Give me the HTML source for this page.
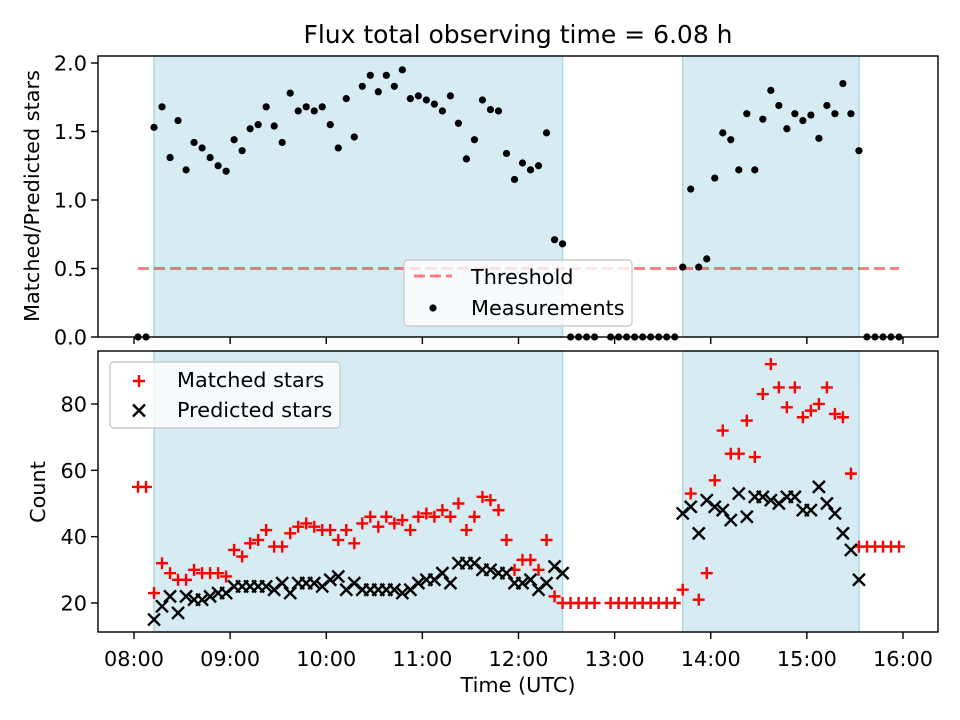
<!DOCTYPE html>
<html><head><meta charset="utf-8"><style>
html,body{margin:0;padding:0;background:#fff;}
svg{display:block;font-family:"DejaVu Sans","Liberation Sans",sans-serif;}
</style></head><body>
<svg id="fig" width="960" height="720" viewBox="0 0 960 720" xmlns="http://www.w3.org/2000/svg">
<rect width="960" height="720" fill="#fff"/>
<text x="518" y="43" font-size="25" text-anchor="middle">Flux total observing time = 6.08 h</text>
<g id="topPanel"></g>
<g id="botPanel"></g>
<text transform="translate(39,196) rotate(-90)" font-size="20.8" text-anchor="middle">Matched/Predicted stars</text>
<text transform="translate(45,492) rotate(-90)" font-size="20.8" text-anchor="middle">Count</text>
<text x="518" y="692" font-size="20.8" text-anchor="middle">Time (UTC)</text>
</svg>
<script>
// minutes after 08:00 for each observation
const times = [2.5,7.5,12.5,17.5,22.5,27.5,32.5,37.5,42.5,47.5,52.5,57.5,62.5,67.5,72.5,77.5,82.5,87.5,92.5,97.5,
102.5,107.5,112.5,117.5,122.5,127.5,132.5,137.5,142.5,147.5,152.5,157.5,162.5,167.5,172.5,177.5,182.5,187.5,192.5,197.5,
202.5,207.5,212.5,217.5,222.5,227.5,232.5,237.5,242.5,247.5,252.5,257.5,262.5,267.5,272.5,277.5,282.5,287.5,292.5,297.5,
302.5,307.5,312.5,317.5,322.5,327.5,332.5,337.5,342.5,347.5,352.5,357.5,362.5,367.5,372.5,377.5,382.5,387.5,392.5,397.5,
402.5,407.5,412.5,417.5,422.5,427.5,432.5,437.5,442.5,447.5,452.5,457.5,462.5,467.5,472.5,477.5];
const ratio = [0,0,1.53,1.68,1.31,1.58,1.22,1.42,1.38,1.31,1.25,1.21,
1.44,1.36,1.52,1.55,1.68,1.54,1.42,1.78,1.65,1.68,
1.65,1.68,1.55,1.38,1.74,1.46,1.83,1.91,1.79,1.91,
1.83,1.95,1.74,1.76,1.73,1.70,1.65,1.76,1.56,1.30,
1.44,1.73,1.66,1.65,1.34,1.15,1.27,1.22,1.25,1.49,
0.71,0.68,0,0,0,0,null,0,0,0,0,0,0,0,0,0,
0.51,1.08,0.51,0.57,1.16,1.49,1.44,1.22,1.63,1.22,1.59,1.80,1.69,1.52,1.63,1.58,1.62,1.45,1.69,1.63,1.85,1.63,1.36,
0,0,0,0,0];
const matched = [55,55,23,32,29,27,27,30,29,29,29,28,36,34,38,39,42,37,37,41,43,44,
43,42,42,39,42,38,44,46,43,46,44,45,42,46,47,46,48,46,50,42,
46,52,51,48,39,30,33,33,30,39,22,20,20,20,20,20,null,20,20,20,20,20,20,20,20,20,
24,53,21,29,57,72,65,65,75,64,83,92,85,79,85,76,78,80,85,77,76,59,37,
37,37,37,37,37];
const predicted = [null,null,15,19,22,17,22,21,21,22,23,23,
25,25,25,25,25,24,26,23,26,26,
26,25,27,28,24,26,24,24,24,24,
24,23,24,26,27,27,29,26,32,32,
32,30,30,29,29,26,26,27,24,26,
31,29,null,null,null,null,null,null,null,null,null,null,null,null,null,null,
47,49,41,51,49,48,45,53,46,52,52,51,50,52,52,48,48,55,50,47,41,36,27,
null,null,null,null,null];
const spanStart = [12.5, 342.5];
const spanEnd = [267.5, 452.5];
const threshold = 0.5;
const xTickLabels = ["08:00","09:00","10:00","11:00","12:00","13:00","14:00","15:00","16:00"];
const topTicks = [0.0,0.5,1.0,1.5,2.0];
const botTicks = [20,40,60,80];

const NS="http://www.w3.org/2000/svg";
const L=98,R=938,FS=20.8;
const xs = m => 134 + (m/60)*96.125;
const yTop = v => 337 - v*137;
const yBot = v => 603 - (v-20)*3.317;
function mk(tag, attrs, parent){const e=document.createElementNS(NS,tag);for(const k in attrs)e.setAttribute(k,attrs[k]);parent.appendChild(e);return e;}
const topG=document.getElementById('topPanel'), botG=document.getElementById('botPanel');

function panel(g, y0, y1, name){
  for(let i=0;i<spanStart.length;i++){
    const r=mk('rect',{x:xs(spanStart[i]),y:y0,width:xs(spanEnd[i])-xs(spanStart[i]),height:y1-y0,fill:'#add8e6','fill-opacity':0.5,stroke:'#add8e6','stroke-width':1.5},g);
    
    
  }
}
panel(topG,56,337,'top');
panel(botG,351,632,'bottom');

const th=mk('line',{x1:xs(times[0]),x2:xs(times[95]),y1:yTop(threshold),y2:yTop(threshold),stroke:'#ff0000','stroke-opacity':0.5,'stroke-width':3,'stroke-dasharray':'11,5'},topG);



for(let i=0;i<times.length;i++){
  if(ratio[i]==null) continue;
  const c=mk('circle',{cx:xs(times[i]),cy:yTop(ratio[i]),r:3.6,fill:'#000'},topG);
  
  
}
for(let i=0;i<times.length;i++){
  if(matched[i]==null) continue;
  const x=xs(times[i]), y=yBot(matched[i]);
  const p=mk('path',{d:`M${x-6},${y}H${x+6}M${x},${y-6}V${y+6}`,stroke:'#ff0000','stroke-width':2.4,fill:'none'},botG);
  
  
}
for(let i=0;i<times.length;i++){
  if(predicted[i]==null) continue;
  const x=xs(times[i]), y=yBot(predicted[i]);
  const p=mk('path',{d:`M${x-6},${y-6}L${x+6},${y+6}M${x-6},${y+6}L${x+6},${y-6}`,stroke:'#000','stroke-width':2.4,fill:'none'},botG);
  
  
}

function frame(g,y0,y1,name){
  const f=mk('rect',{x:L,y:y0,width:R-L,height:y1-y0,fill:'none',stroke:'#000','stroke-width':1.4},g);
  
  
  xTickLabels.forEach((lab,k)=>{
    const x=xs(k*60);
    const t=mk('line',{x1:x,x2:x,y1:y1,y2:y1+7,stroke:'#000','stroke-width':1.4},g);
    
    
  });
}
frame(topG,56,337,'top');
frame(botG,351,632,'bottom');
xTickLabels.forEach((lab,k)=>{
  const t=mk('text',{x:xs(k*60),y:666,'font-size':FS,'text-anchor':'middle'},botG);
  t.textContent=lab;
  
  
});
topTicks.forEach(v=>{
  const y=yTop(v);
  const l=mk('line',{x1:L-7,x2:L,y1:y,y2:y,stroke:'#000','stroke-width':1.4},topG);
  
  
  const t=mk('text',{x:L-11,y:y+7.5,'font-size':FS,'text-anchor':'end'},topG);
  t.textContent=v.toFixed(1);
  
  
});
botTicks.forEach(v=>{
  const y=yBot(v);
  const l=mk('line',{x1:L-7,x2:L,y1:y,y2:y,stroke:'#000','stroke-width':1.4},botG);
  
  
  const t=mk('text',{x:L-11,y:y+7.5,'font-size':FS,'text-anchor':'end'},botG);
  t.textContent=String(v);
  
  
});

const lg1=mk('g',{},topG);


mk('rect',{x:404,y:260,width:228,height:66,rx:4,fill:'#fff','fill-opacity':0.8,stroke:'#cccccc','stroke-width':1.4},lg1);
mk('line',{x1:414,x2:452,y1:276,y2:276,stroke:'#ff0000','stroke-opacity':0.5,'stroke-width':3,'stroke-dasharray':'11,5'},lg1);
const lt1=mk('text',{x:471,y:284,'font-size':FS},lg1); lt1.textContent='Threshold';


mk('circle',{cx:433,cy:308,r:3.6,fill:'#000'},lg1);
const lt2=mk('text',{x:471,y:315,'font-size':FS},lg1); lt2.textContent='Measurements';



const lg2=mk('g',{},botG);


mk('rect',{x:110,y:362,width:230,height:66,rx:4,fill:'#fff','fill-opacity':0.8,stroke:'#cccccc','stroke-width':1.4},lg2);
mk('path',{d:'M133,381H145M139,375V387',stroke:'#ff0000','stroke-width':2.4},lg2);
const lt3=mk('text',{x:177,y:387,'font-size':FS},lg2); lt3.textContent='Matched stars';


mk('path',{d:'M133,404.5L145,416.5M133,416.5L145,404.5',stroke:'#000','stroke-width':2.4},lg2);
const lt4=mk('text',{x:177,y:417,'font-size':FS},lg2); lt4.textContent='Predicted stars';


</script>
</body></html>
